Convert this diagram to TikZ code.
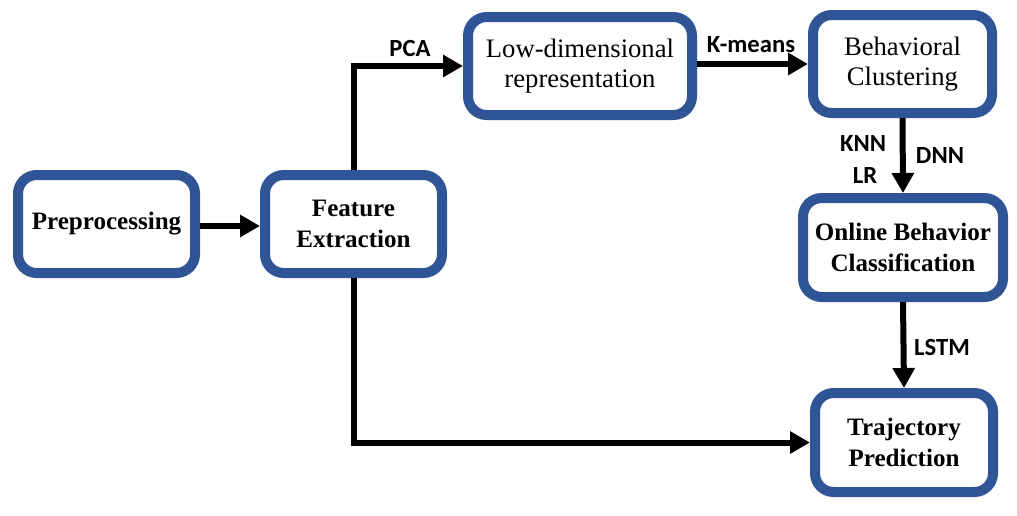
\documentclass[tikz,border=0pt]{standalone}
\usepackage{fontspec}
\setmainfont{Liberation Serif}
\newfontfamily\labfont{Carlito}
\usetikzlibrary{arrows.meta}
\definecolor{boxblue}{HTML}{2F5597}
\tikzset{
  procbox/.style={draw=boxblue, line width=7.5pt, rounded corners=14pt, fill=white,
    align=center, inner sep=0pt, font=\fontsize{20}{23}\selectfont},
  boldbox/.style={procbox, font=\bfseries\fontsize{18.8}{23}\selectfont},
  conn/.style={line width=4.5pt, -{Triangle[length=15pt,width=16pt]}},
  lab/.style={font=\labfont\bfseries\fontsize{18.5}{22}\selectfont, inner sep=0pt}
}
\begin{document}
\begin{tikzpicture}[x=0.75pt,y=-0.75pt]
\useasboundingbox (0,0) rectangle (1017,515);
\node[boldbox, minimum width=177*0.75pt, minimum height=98*0.75pt] (pre) at (106.5,224) {Preprocessing};
\node[boldbox, minimum width=177*0.75pt, minimum height=98*0.75pt] (feat) at (353.5,224) {Feature\\Extraction};
\node[procbox, minimum width=224*0.75pt, minimum height=98*0.75pt] (low) at (580,66) {Low-dimensional\\representation};
\node[procbox, minimum width=179*0.75pt, minimum height=98*0.75pt] (beh) at (902.5,64) {Behavioral\\Clustering};
\node[boldbox, minimum width=200*0.75pt, minimum height=99*0.75pt] (onl) at (903,247.5) {Online Behavior\\Classification};
\node[boldbox, minimum width=178*0.75pt, minimum height=99*0.75pt] (traj) at (904,442.5) {Trajectory\\Prediction};
\draw[conn] (pre.east |- 0,226) -- (feat.west |- 0,226);
\draw[conn] (feat.north) |- (low.west);
\draw[conn] (low.east |- beh.west) -- (beh.west);
\draw[conn] (beh.south) -- (onl.north);
\draw[conn] (onl.south) -- (traj.north);
\draw[conn] (feat.south) |- (traj.west);
\node[lab] (pca) at (410,48) {PCA};
\node[lab] (km) at (751,45) {K-means};
\node[lab] (knn) at (863,143) {KNN};
\node[lab] (lr) at (865,175) {LR};
\node[lab] (dnn) at (940,155) {DNN};
\node[lab] (lstm) at (942,347) {LSTM};
\end{tikzpicture}
\end{document}
